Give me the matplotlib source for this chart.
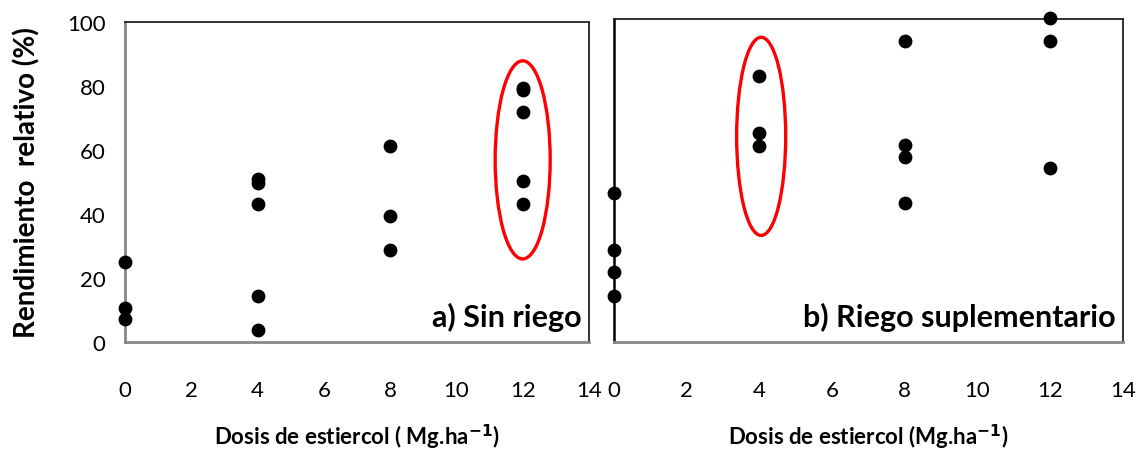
import matplotlib.pyplot as plt
from matplotlib.patches import Ellipse

plt.rcParams['font.family'] = ['Lato', 'DejaVu Sans']

# a) Sin riego
dosis_a = [0, 0, 0, 4, 4, 4, 4, 4, 8, 8, 8, 12, 12, 12, 12, 12]
rend_a = [25.0, 10.7, 7.3, 51.0, 49.6, 43.1, 14.5, 3.8, 61.2, 39.4, 28.8,
          79.4, 78.6, 71.9, 50.3, 43.1]

# b) Riego suplementario
dosis_b = [0, 0, 0, 0, 4, 4, 4, 8, 8, 8, 8, 12, 12, 12]
rend_b = [46.3, 28.5, 21.6, 14.4, 82.3, 64.6, 60.8, 93.1, 61.1, 57.4, 43.1,
          100.2, 93.2, 53.9]

xticks = [0, 2, 4, 6, 8, 10, 12, 14]
yticks = [0, 20, 40, 60, 80, 100]

fig = plt.figure(figsize=(11.37, 4.52), dpi=100)
ax1 = fig.add_axes([0.1099, 0.2405, 0.4081, 0.7093])
ax2 = fig.add_axes([0.5400, 0.2405, 0.4475, 0.7153])

for ax, xs, ys in [(ax1, dosis_a, rend_a), (ax2, dosis_b, rend_b)]:
    ax.scatter(xs, ys, s=80, color='black', zorder=3, clip_on=False)
    ax.set_xlim(0, 14)
    ax.set_ylim(0, 100)
    ax.set_xticks(xticks)
    ax.tick_params(axis='x', length=0, pad=27, labelsize=16)
    ax.tick_params(axis='y', length=0, pad=14, labelsize=16)
    ax.spines['bottom'].set_color('#888888')
    ax.spines['bottom'].set_linewidth(2)
    ax.spines['top'].set_color('#222222')
    ax.spines['right'].set_color('#222222')
    ax.spines['top'].set_linewidth(1.3)
    ax.spines['right'].set_linewidth(1.3)

ax1.set_yticks(yticks)
ax1.spines['left'].set_color('#888888')
ax1.spines['left'].set_linewidth(2)
ax2.set_yticks([])
ax2.spines['left'].set_color('black')
ax2.spines['left'].set_linewidth(1.8)

ax1.set_ylabel('Rendimiento  relativo (%)', fontsize=20, fontweight='bold', labelpad=19)
ax1.set_xlabel('Dosis de estiercol ( Mg.ha$^{\\mathbf{-1}}$)', fontsize=16,
               fontweight='bold', labelpad=16)
ax2.set_xlabel('Dosis de estiercol (Mg.ha$^{\\mathbf{-1}}$)', fontsize=16,
               fontweight='bold', labelpad=16)

ax1.text(0.985, 0.05, 'a) Sin riego', transform=ax1.transAxes, ha='right',
         va='baseline', fontsize=22, fontweight='bold')
ax2.text(0.985, 0.05, 'b) Riego suplementario', transform=ax2.transAxes,
         ha='right', va='baseline', fontsize=22, fontweight='bold')

ax1.add_patch(Ellipse((12, 56.9), 1.66, 61.8, fill=False, edgecolor='red',
                      linewidth=2.4, zorder=4))
ax2.add_patch(Ellipse((4.05, 63.7), 1.35, 61.3, fill=False, edgecolor='red',
                      linewidth=2.4, zorder=4))

fig.savefig('out.png', dpi=100)
